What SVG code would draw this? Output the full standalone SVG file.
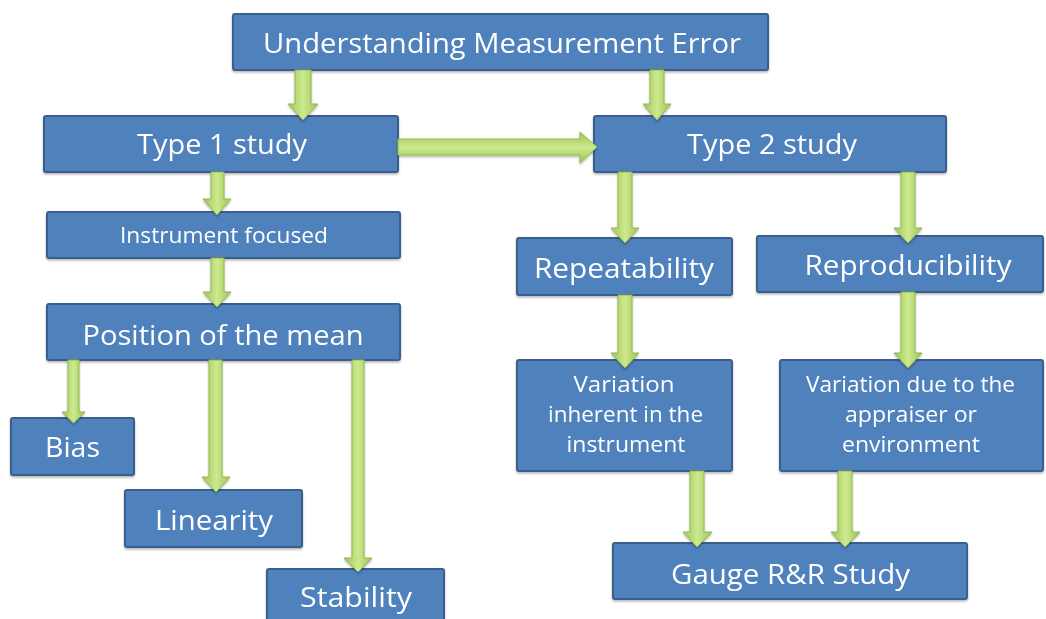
<svg xmlns="http://www.w3.org/2000/svg" width="1046" height="619" viewBox="0 0 1046 619">
  <style>
    .box { fill: #4F81BD; stroke: #3A5F8C; stroke-width: 2; }
    .lbl { fill: #FFFFFF; font-family: "Open Sans", "Liberation Sans", sans-serif; text-anchor: middle; }
    .big { font-size: 28px; }
    .mid { font-size: 22px; }
    .sm { font-size: 21px; }
    .av { fill: url(#gv); stroke: #93B94E; stroke-width: 1; }
    .ah { fill: url(#gh); stroke: #93B94E; stroke-width: 1; }
  </style>
  <defs>
    <linearGradient id="gv" x1="0" y1="0" x2="1" y2="0">
      <stop offset="0" stop-color="#9DC457"/>
      <stop offset="0.5" stop-color="#CDEA8E"/>
      <stop offset="1" stop-color="#9DC457"/>
    </linearGradient>
    <linearGradient id="gh" x1="0" y1="0" x2="0" y2="1">
      <stop offset="0" stop-color="#9DC457"/>
      <stop offset="0.5" stop-color="#CDEA8E"/>
      <stop offset="1" stop-color="#9DC457"/>
    </linearGradient>
    <filter id="sh" x="-10%" y="-10%" width="120%" height="130%">
      <feDropShadow dx="0" dy="1.5" stdDeviation="1.2" flood-color="#000" flood-opacity="0.3"/>
    </filter>
  </defs>

  <g id="n-title" filter="url(#sh)">
    <rect class="box" x="233" y="14" width="535" height="56" rx="2"/>
    <text class="lbl big" x="502" y="53" textLength="478" lengthAdjust="spacingAndGlyphs">Understanding Measurement Error</text>
  </g>
  <g id="n-type1" filter="url(#sh)">
    <rect class="box" x="44" y="116" width="354" height="56" rx="2"/>
    <text class="lbl big" x="222" y="154" textLength="170" lengthAdjust="spacingAndGlyphs">Type 1 study</text>
  </g>
  <g id="n-type2" filter="url(#sh)">
    <rect class="box" x="594" y="116" width="352" height="56" rx="2"/>
    <text class="lbl big" x="772" y="154" textLength="170" lengthAdjust="spacingAndGlyphs">Type 2 study</text>
  </g>
  <g id="n-instrument" filter="url(#sh)">
    <rect class="box" x="47" y="212" width="353" height="46" rx="2"/>
    <text class="lbl sm" x="224" y="243" textLength="208" lengthAdjust="spacingAndGlyphs">Instrument focused</text>
  </g>
  <g id="n-position" filter="url(#sh)">
    <rect class="box" x="47" y="304" width="353" height="56" rx="2"/>
    <text class="lbl big" x="223" y="345" textLength="281" lengthAdjust="spacingAndGlyphs">Position of the mean</text>
  </g>
  <g id="n-bias" filter="url(#sh)">
    <rect class="box" x="11" y="418" width="123" height="57" rx="2"/>
    <text class="lbl big" x="72.5" y="457" textLength="55" lengthAdjust="spacingAndGlyphs">Bias</text>
  </g>
  <g id="n-linearity" filter="url(#sh)">
    <rect class="box" x="125" y="490" width="177" height="57" rx="2"/>
    <text class="lbl big" x="214" y="530" textLength="118" lengthAdjust="spacingAndGlyphs">Linearity</text>
  </g>
  <g id="n-stability" filter="url(#sh)">
    <rect class="box" x="267" y="569" width="177" height="60" rx="2"/>
    <text class="lbl big" x="356" y="607" textLength="112" lengthAdjust="spacingAndGlyphs">Stability</text>
  </g>
  <g id="n-repeat" filter="url(#sh)">
    <rect class="box" x="517" y="238" width="215" height="57" rx="2"/>
    <text class="lbl big" x="624" y="278" textLength="180" lengthAdjust="spacingAndGlyphs">Repeatability</text>
  </g>
  <g id="n-reproduce" filter="url(#sh)">
    <rect class="box" x="757" y="236" width="286" height="56" rx="2"/>
    <text class="lbl big" x="908" y="275" textLength="207" lengthAdjust="spacingAndGlyphs">Reproducibility</text>
  </g>
  <g id="n-var-inst" filter="url(#sh)">
    <rect class="box" x="517" y="360" width="215" height="111" rx="2"/>
    <text class="lbl mid" x="624" y="392" textLength="101" lengthAdjust="spacingAndGlyphs">Variation</text>
    <text class="lbl mid" x="625.5" y="422" textLength="155" lengthAdjust="spacingAndGlyphs">inherent in the</text>
    <text class="lbl mid" x="626" y="452" textLength="119" lengthAdjust="spacingAndGlyphs">instrument</text>
  </g>
  <g id="n-var-app" filter="url(#sh)">
    <rect class="box" x="780" y="360" width="263" height="111" rx="2"/>
    <text class="lbl mid" x="910.5" y="392" textLength="209" lengthAdjust="spacingAndGlyphs">Variation due to the</text>
    <text class="lbl mid" x="911" y="422" textLength="132" lengthAdjust="spacingAndGlyphs">appraiser or</text>
    <text class="lbl mid" x="911" y="452" textLength="138" lengthAdjust="spacingAndGlyphs">environment</text>
  </g>
  <g id="n-gauge" filter="url(#sh)">
    <rect class="box" x="613" y="543" width="354" height="56" rx="2"/>
    <text class="lbl big" x="790.5" y="584" textLength="239" lengthAdjust="spacingAndGlyphs">Gauge R&amp;R Study</text>
  </g>

  <g id="connectors" filter="url(#sh)">
    <!-- title -> type1 -->
    <path class="av" d="M295,70 H311 V104 H318 L303,120 L288,104 H295 Z"/>
    <!-- title -> type2 -->
    <path class="av" d="M650,70 H664 V104 H671 L657,120 L643,104 H650 Z"/>
    <!-- type1 -> type2 -->
    <path class="ah" d="M398,139 H580 V132 L597,147 L580,163 V155 H398 Z"/>
    <!-- type1 -> instrument -->
    <path class="av" d="M211,172 H224 V199 H231 L217,215 L203,199 H211 Z"/>
    <!-- instrument -> position -->
    <path class="av" d="M211,258 H224 V292 H231 L217,307 L203,292 H211 Z"/>
    <!-- position -> bias -->
    <path class="av" d="M68,360 H79 V412 H85 L73.5,423 L62,412 H68 Z"/>
    <!-- position -> linearity -->
    <path class="av" d="M209,360 H222 V477 H230 L216,492 L202,477 H209 Z"/>
    <!-- position -> stability -->
    <path class="av" d="M352,360 H364 V558 H372 L358,572 L344,558 H352 Z"/>
    <!-- type2 -> repeatability -->
    <path class="av" d="M618,172 H632 V228 H639 L625,243 L611,228 H618 Z"/>
    <!-- type2 -> reproducibility -->
    <path class="av" d="M901,172 H915 V228 H922 L908,243 L894,228 H901 Z"/>
    <!-- repeatability -> variation inherent -->
    <path class="av" d="M618,295 H632 V353 H639 L625,368 L611,353 H618 Z"/>
    <!-- reproducibility -> variation appraiser -->
    <path class="av" d="M901,292 H915 V353 H922 L908,368 L894,353 H901 Z"/>
    <!-- variation inherent -> gauge -->
    <path class="av" d="M690,471 H704 V532 H712 L697,547 L683,532 H690 Z"/>
    <!-- variation appraiser -> gauge -->
    <path class="av" d="M838,471 H852 V532 H860 L845,547 L831,532 H838 Z"/>
  </g>
</svg>
